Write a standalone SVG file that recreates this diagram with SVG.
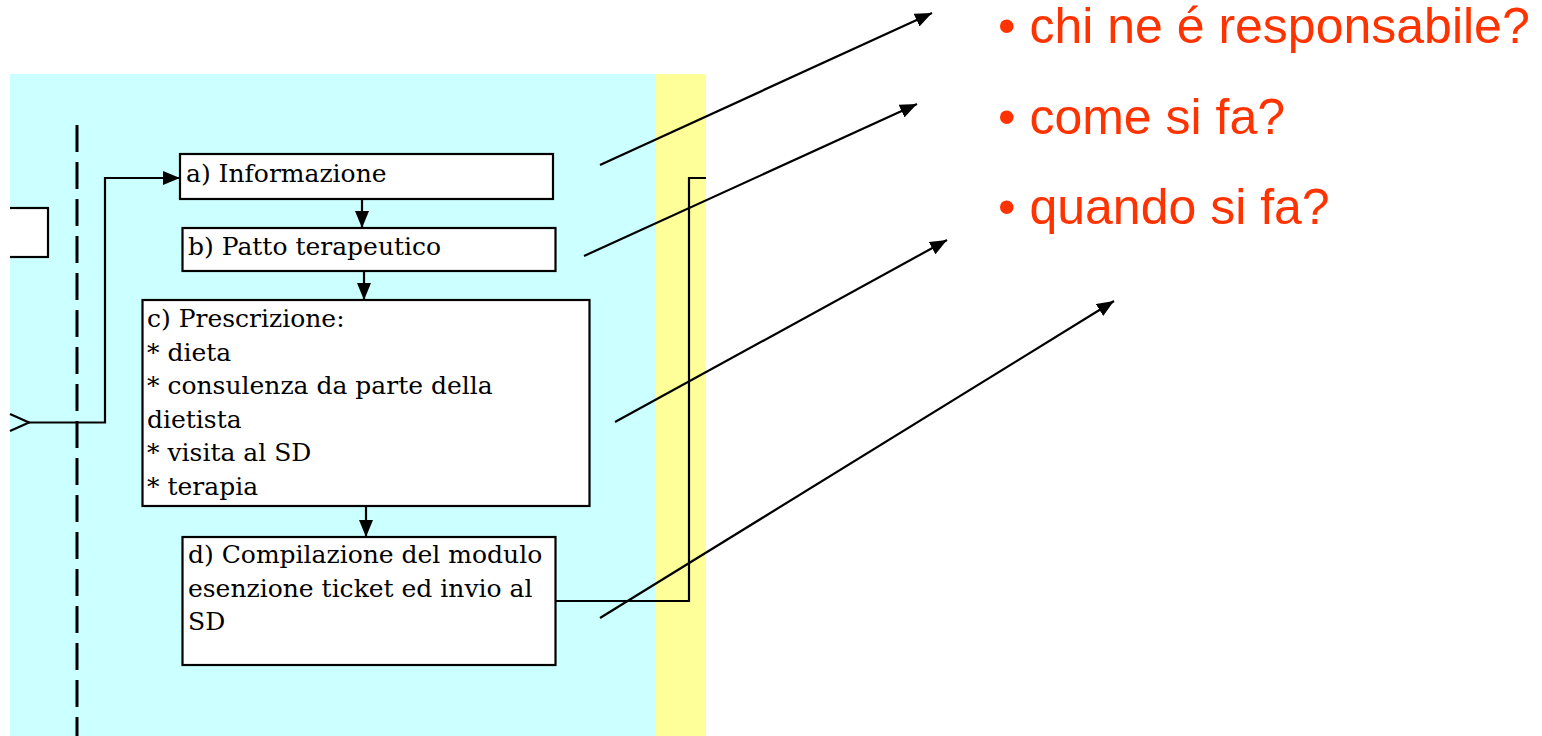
<svg xmlns="http://www.w3.org/2000/svg" width="1542" height="736" viewBox="0 0 1542 736">
  <defs>
    <marker id="ah" markerUnits="userSpaceOnUse" markerWidth="17" markerHeight="14" refX="17" refY="7" orient="auto">
      <path d="M0,0 L17,7 L0,14 z" fill="#000"/>
    </marker>
    <style>
      .box { fill: #fff; stroke: #000; stroke-width: 2.2; }
      .bt { font-family: "DejaVu Serif", "Liberation Serif", serif; font-size: 25px; fill: #000; }
      .q { font-family: "Liberation Sans", Arial, sans-serif; font-size: 50px; fill: #FF3300; }
      .ln { fill: none; stroke: #000; stroke-width: 2.2; }
      .ar { fill: none; stroke: #000; stroke-width: 2.2; marker-end: url(#ah); }
    </style>
  </defs>
  <rect x="0" y="0" width="1542" height="736" fill="#fff"/>
  <g id="lanes">
    <rect x="10" y="74" width="646" height="662" fill="#CCFFFF"/>
    <rect x="656" y="74" width="50" height="662" fill="#FFFF99"/>
  </g>
  <g id="separator">
    <line x1="77" y1="125" x2="77" y2="736" stroke="#000" stroke-width="3" stroke-dasharray="27 10"/>
  </g>
  <g id="left-box">
    <rect class="box" x="0" y="208" width="48" height="49"/>
    <rect x="0" y="200" width="10" height="70" fill="#fff"/>
  </g>
  <g id="node-a">
    <rect class="box" x="180" y="154" width="373" height="45"/>
    <text class="bt" x="186" y="182">a) Informazione</text>
  </g>
  <g id="node-b">
    <rect class="box" x="182.5" y="228" width="373" height="43"/>
    <text class="bt" x="188" y="255">b) Patto terapeutico</text>
  </g>
  <g id="node-c">
    <rect class="box" x="142.5" y="300" width="447" height="206"/>
    <text class="bt" x="147">
      <tspan x="147" y="327">c) Prescrizione:</tspan>
      <tspan x="147" y="360.5">* dieta</tspan>
      <tspan x="147" y="394">* consulenza da parte della</tspan>
      <tspan x="147" y="427.5">dietista</tspan>
      <tspan x="147" y="461">* visita al SD</tspan>
      <tspan x="147" y="494.5">* terapia</tspan>
    </text>
  </g>
  <g id="node-d">
    <rect class="box" x="182.5" y="537" width="373" height="128"/>
    <text class="bt">
      <tspan x="188" y="563">d) Compilazione del modulo</tspan>
      <tspan x="188" y="597">esenzione ticket ed invio al</tspan>
      <tspan x="188" y="630">SD</tspan>
    </text>
  </g>
  <g id="questions">
    <text class="q" x="998" y="43">• chi ne é responsabile?</text>
    <text class="q" x="998" y="134">• come si fa?</text>
    <text class="q" x="998" y="224">• quando si fa?</text>
  </g>
  <g id="connectors">
    <polyline class="ln" points="10,414 29,422.5 10,431"/>
    <polyline class="ar" points="29,422.5 105,422.5 105,178 180,178"/>
    <line class="ar" x1="362" y1="199" x2="362" y2="228"/>
    <line class="ar" x1="364" y1="271" x2="364" y2="300"/>
    <line class="ar" x1="366" y1="506" x2="366" y2="537"/>
    <polyline class="ln" points="556,601 689,601 689,178 706,178"/>
    <line class="ar" x1="600" y1="165" x2="932" y2="13"/>
    <line class="ar" x1="584" y1="256" x2="917" y2="104"/>
    <line class="ar" x1="615" y1="422" x2="947" y2="240"/>
    <line class="ar" x1="600" y1="618" x2="1114" y2="301"/>
  </g>
</svg>
